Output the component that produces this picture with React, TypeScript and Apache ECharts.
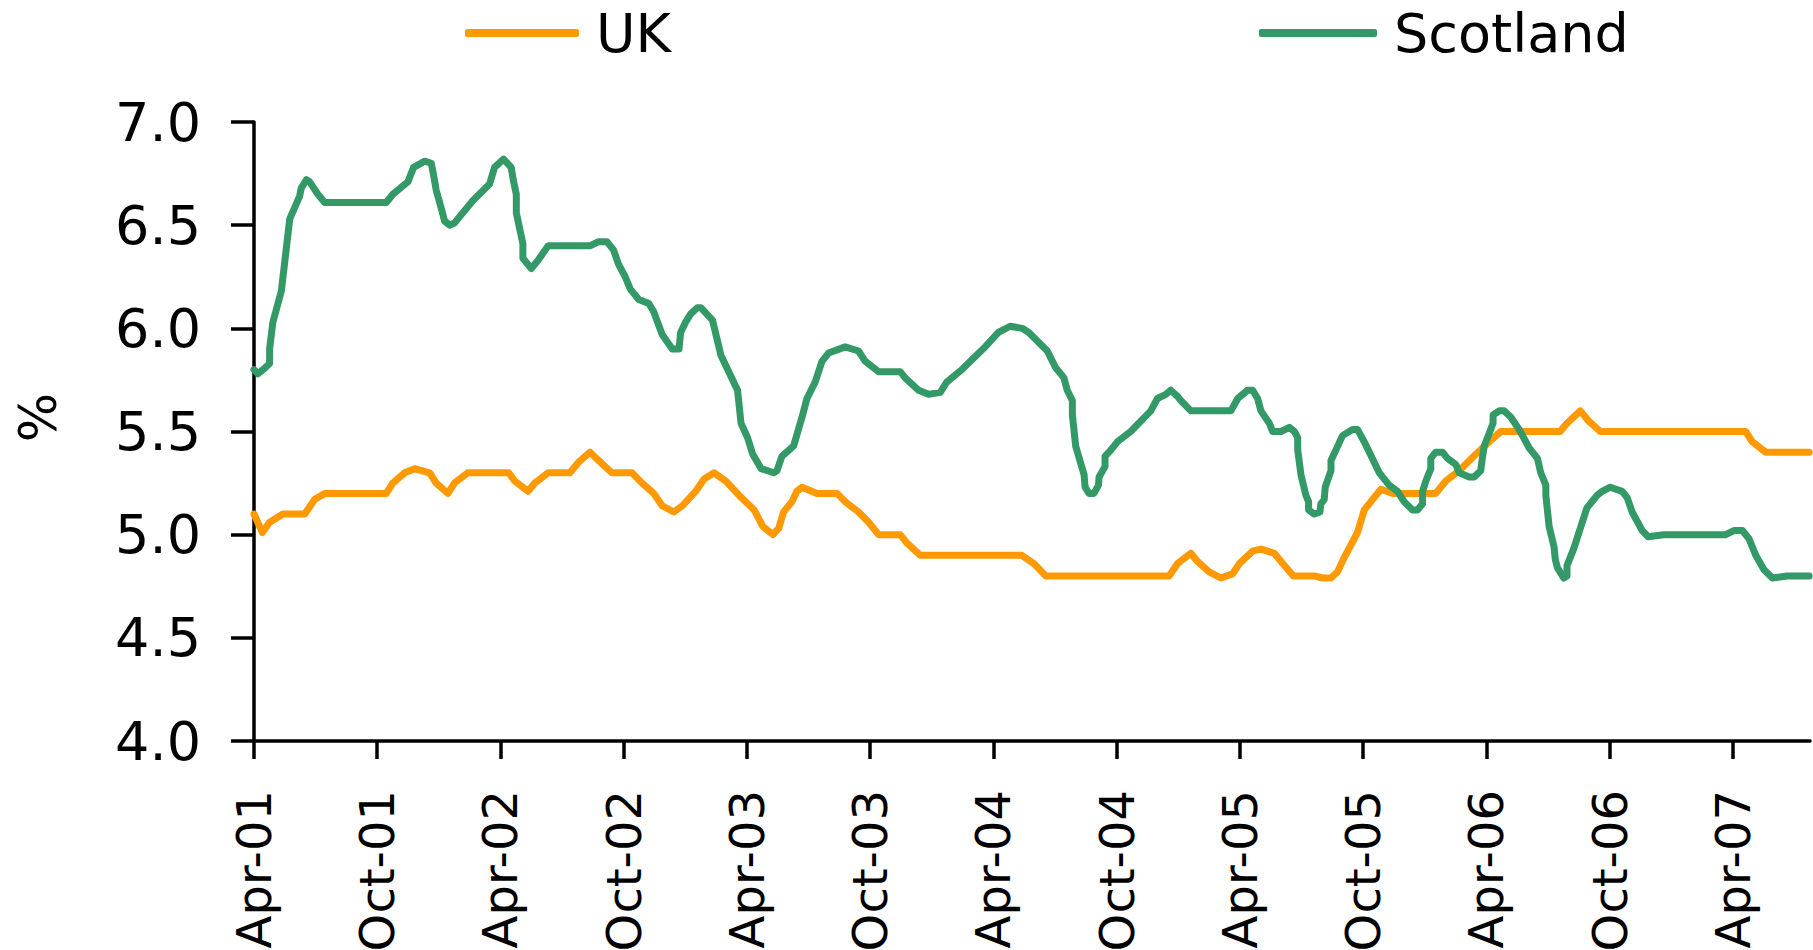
import React, { useEffect, useRef } from "react";
import * as echarts from "echarts";

// Months elapsed since Apr-01 (x) and % values (y)
const ukMonths = [0, 0.41, 0.76, 1.41, 2.47, 2.95, 3.44, 6.44, 6.76, 7.33, 7.82, 8.55, 8.87, 9.44, 9.76, 10.41, 12.4, 12.69, 13.34, 13.67, 14.32, 15.38, 15.79, 16.36, 16.77, 17.42, 18.4, 18.89, 19.46, 19.87, 20.44, 20.85, 21.5, 21.91, 22.4, 22.97, 23.62, 24.35, 24.77, 25.26, 25.54, 25.78, 26.19, 26.43, 26.68, 27.41, 28.38, 28.78, 29.43, 29.92, 30.41, 31.46, 31.78, 32.43, 37.38, 37.97, 38.54, 44.55, 44.96, 45.61, 45.93, 46.5, 47.07, 47.64, 47.97, 48.62, 49.02, 49.67, 50.08, 50.6, 51.62, 52.02, 52.43, 52.75, 53.08, 53.72, 54.05, 54.45, 54.86, 55.43, 57.53, 58.02, 58.67, 59.48, 60.13, 60.7, 63.59, 63.92, 64.57, 64.98, 65.54, 72.62, 72.94, 73.59, 75.71];
const ukValues = [5.1, 5.01, 5.06, 5.1, 5.1, 5.17, 5.2, 5.2, 5.25, 5.3, 5.32, 5.3, 5.25, 5.2, 5.25, 5.3, 5.3, 5.26, 5.21, 5.25, 5.3, 5.3, 5.35, 5.4, 5.36, 5.3, 5.3, 5.25, 5.2, 5.14, 5.11, 5.14, 5.21, 5.27, 5.3, 5.26, 5.19, 5.12, 5.04, 5.0, 5.03, 5.11, 5.16, 5.21, 5.23, 5.2, 5.2, 5.16, 5.11, 5.06, 5.0, 5.0, 4.96, 4.9, 4.9, 4.86, 4.8, 4.8, 4.86, 4.91, 4.87, 4.82, 4.79, 4.81, 4.86, 4.92, 4.93, 4.91, 4.86, 4.8, 4.8, 4.79, 4.79, 4.82, 4.89, 5.01, 5.12, 5.17, 5.22, 5.2, 5.2, 5.26, 5.31, 5.39, 5.45, 5.5, 5.5, 5.54, 5.6, 5.55, 5.5, 5.5, 5.45, 5.4, 5.4];

const scotMonths = [0, 0.19, 0.45, 0.76, 0.76, 0.92, 1.33, 1.74, 2.22, 2.3, 2.55, 2.71, 3.11, 3.44, 6.44, 6.76, 7.49, 7.77, 8.3, 8.63, 8.71, 8.87, 9.12, 9.28, 9.52, 9.76, 10.0, 10.33, 10.66, 11.47, 11.71, 12.15, 12.52, 12.62, 12.77, 12.77, 13.09, 13.09, 13.5, 13.83, 14.32, 16.36, 16.77, 17.18, 17.5, 17.75, 18.07, 18.32, 18.73, 19.22, 19.46, 19.87, 20.36, 20.69, 20.77, 21.01, 21.26, 21.58, 21.75, 22.32, 22.73, 23.54, 23.71, 24.03, 24.28, 24.69, 25.3, 25.46, 25.7, 26.27, 26.68, 26.92, 27.32, 27.65, 27.97, 28.78, 29.43, 29.76, 30.41, 31.46, 31.7, 32.35, 32.84, 33.41, 33.73, 34.46, 35.59, 36.24, 36.81, 37.4, 37.72, 38.62, 39.02, 39.43, 39.59, 39.84, 39.84, 40.0, 40.41, 40.46, 40.65, 40.89, 41.11, 41.14, 41.43, 41.43, 41.71, 42.03, 42.68, 43.66, 43.98, 44.39, 44.63, 44.96, 45.12, 45.61, 47.56, 47.89, 48.37, 48.62, 48.86, 49.02, 49.43, 49.59, 50.0, 50.41, 50.65, 50.81, 50.81, 50.97, 51.21, 51.34, 51.34, 51.62, 51.89, 51.94, 52.1, 52.15, 52.43, 52.43, 52.67, 52.99, 53.48, 53.72, 54.05, 54.54, 54.78, 55.26, 55.67, 55.99, 56.4, 56.64, 56.89, 56.89, 57.05, 57.29, 57.29, 57.53, 57.86, 58.1, 58.51, 58.67, 59.16, 59.4, 59.72, 59.77, 59.89, 60.13, 60.32, 60.32, 60.62, 60.86, 61.18, 61.59, 62.08, 62.48, 62.64, 62.89, 62.89, 63.05, 63.29, 63.35, 63.45, 63.76, 63.92, 63.92, 64.24, 64.89, 65.38, 65.63, 66.03, 66.6, 66.85, 67.09, 67.58, 67.87, 68.63, 71.64, 72.05, 72.46, 72.78, 73.11, 73.51, 73.92, 74.65, 75.71];
const scotValues = [5.8, 5.78, 5.8, 5.83, 5.9, 6.03, 6.18, 6.53, 6.64, 6.68, 6.72, 6.71, 6.65, 6.61, 6.61, 6.65, 6.71, 6.78, 6.81, 6.8, 6.76, 6.67, 6.58, 6.52, 6.5, 6.51, 6.54, 6.58, 6.62, 6.7, 6.78, 6.82, 6.78, 6.72, 6.65, 6.56, 6.41, 6.34, 6.29, 6.33, 6.4, 6.4, 6.42, 6.42, 6.38, 6.31, 6.25, 6.19, 6.14, 6.12, 6.08, 5.97, 5.9, 5.9, 5.98, 6.03, 6.07, 6.1, 6.1, 6.04, 5.87, 5.7, 5.54, 5.47, 5.39, 5.32, 5.3, 5.31, 5.38, 5.43, 5.57, 5.66, 5.74, 5.84, 5.88, 5.91, 5.89, 5.84, 5.79, 5.79, 5.76, 5.7, 5.68, 5.69, 5.74, 5.8, 5.91, 5.98, 6.01, 6.0, 5.98, 5.89, 5.81, 5.76, 5.7, 5.65, 5.58, 5.43, 5.29, 5.23, 5.2, 5.2, 5.24, 5.28, 5.33, 5.38, 5.41, 5.45, 5.5, 5.6, 5.66, 5.68, 5.7, 5.67, 5.65, 5.6, 5.6, 5.66, 5.7, 5.7, 5.66, 5.6, 5.54, 5.5, 5.5, 5.52, 5.5, 5.47, 5.41, 5.29, 5.19, 5.16, 5.12, 5.1, 5.11, 5.15, 5.17, 5.23, 5.31, 5.36, 5.41, 5.48, 5.51, 5.51, 5.45, 5.35, 5.3, 5.24, 5.21, 5.16, 5.12, 5.12, 5.15, 5.21, 5.26, 5.32, 5.37, 5.4, 5.4, 5.37, 5.34, 5.3, 5.28, 5.28, 5.31, 5.35, 5.43, 5.49, 5.54, 5.58, 5.6, 5.6, 5.57, 5.51, 5.42, 5.37, 5.3, 5.24, 5.19, 5.04, 4.94, 4.88, 4.84, 4.79, 4.8, 4.85, 4.93, 5.13, 5.19, 5.21, 5.23, 5.21, 5.18, 5.11, 5.02, 4.99, 5.0, 5.0, 5.02, 5.02, 4.98, 4.9, 4.83, 4.79, 4.8, 4.8];

const tickMonths = [0, 6, 12, 18, 24, 30, 36, 42, 48, 54, 60, 66, 72];
const tickLabels = ["Apr-01", "Oct-01", "Apr-02", "Oct-02", "Apr-03", "Oct-03", "Apr-04", "Oct-04", "Apr-05", "Oct-05", "Apr-06", "Oct-06", "Apr-07"];

const seriesNames = ["UK", "Scotland"];
const seriesColors = ["#FF9900", "#339966"];

const FONT = "DejaVu Sans";

export default function App() {
  const ref = useRef<HTMLDivElement>(null);
  useEffect(() => {
    if (!ref.current) return;
    const chart = echarts.init(ref.current, undefined, { renderer: "svg" });
    const pair = (xs: number[], ys: number[]) => xs.map((x, i) => [x, ys[i]]);
    const legendBase = {
      top: 1,
      itemHeight: 8,
      icon: "roundRect",
      textStyle: { fontFamily: FONT, fontSize: 54, color: "#000", padding: [0, 0, 0, 12] },
    };
    chart.setOption({
      animation: false,
      backgroundColor: "#ffffff",
      grid: { left: 254, right: 3, top: 122, bottom: 209, containLabel: false, outerBoundsMode: "none" },
      legend: [
        { ...legendBase, data: [seriesNames[0]], left: 460, itemWidth: 114, itemStyle: { color: seriesColors[0] } },
        { ...legendBase, data: [seriesNames[1]], left: 1254, itemWidth: 118, itemStyle: { color: seriesColors[1] } },
      ],
      xAxis: {
        type: "value",
        min: 0,
        max: 75.75,
        splitLine: { show: false },
        axisLine: { show: true, onZero: false, lineStyle: { color: "#000", width: 3.5 } },
        axisTick: { show: true, customValues: tickMonths, length: 18, lineStyle: { color: "#000", width: 3.5 } },
        axisLabel: {
          customValues: tickMonths,
          rotate: 90,
          margin: 49,
          fontFamily: FONT,
          fontSize: 48,
          color: "#000",
          formatter: (v: number) => {
            const i = tickMonths.indexOf(Math.round(v));
            return i >= 0 ? tickLabels[i] : "";
          },
        },
      },
      yAxis: {
        type: "value",
        min: 4,
        max: 7,
        interval: 0.5,
        name: "%",
        nameLocation: "middle",
        nameRotate: 90,
        nameGap: 190,
        nameTextStyle: { fontFamily: FONT, fontSize: 52, color: "#000", padding: [0, 0, 0, 28] },
        splitLine: { show: false },
        axisLine: { show: true, lineStyle: { color: "#000", width: 3.5 } },
        axisTick: { show: true, length: 23, lineStyle: { color: "#000", width: 3.5 } },
        axisLabel: {
          margin: 53,
          fontFamily: FONT,
          fontSize: 54,
          color: "#000",
          formatter: (v: number) => v.toFixed(1),
        },
      },
      series: [
        {
          name: seriesNames[0],
          type: "line",
          data: pair(ukMonths, ukValues),
          showSymbol: false,
          symbol: "none",
          color: seriesColors[0],
          lineStyle: { color: seriesColors[0], width: 7, cap: "round", join: "round" },
          z: 2,
        },
        {
          name: seriesNames[1],
          type: "line",
          data: pair(scotMonths, scotValues),
          showSymbol: false,
          symbol: "none",
          color: seriesColors[1],
          lineStyle: { color: seriesColors[1], width: 7, cap: "round", join: "round" },
          z: 3,
        },
      ],
    });
    return () => chart.dispose();
  }, []);
  return (
    <div
      ref={ref}
      style={{ position: "fixed", left: 0, top: 0, width: 1813, height: 950, background: "#fff" }}
    />
  );
}
